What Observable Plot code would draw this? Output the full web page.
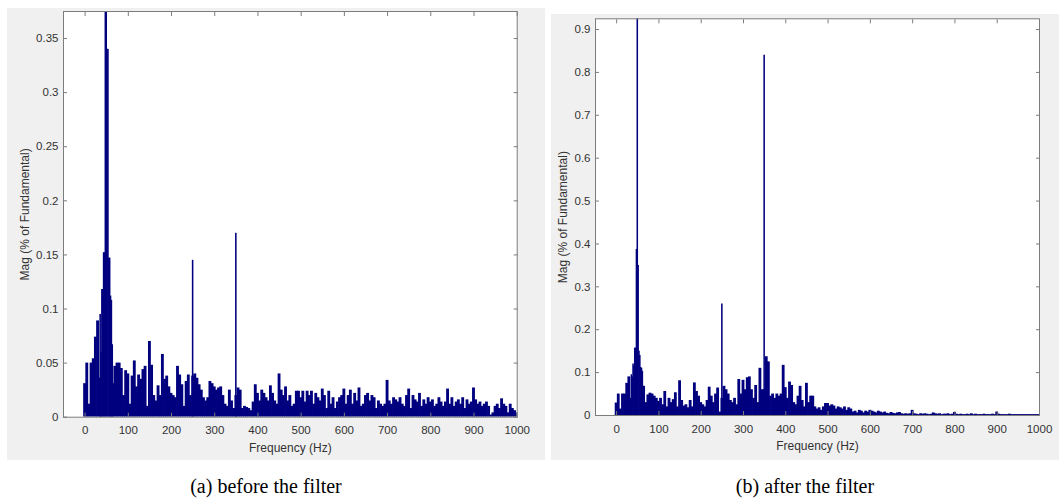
<!DOCTYPE html>
<html><head><meta charset="utf-8">
<script src="https://cdn.jsdelivr.net/npm/d3@7"></script>
<script src="https://cdn.jsdelivr.net/npm/@observablehq/plot@0.6"></script>
<style>
html,body{margin:0;padding:0;background:#fff;width:1059px;height:500px;overflow:hidden;position:relative;font-family:"Liberation Sans",Arial,sans-serif}
.panel{position:absolute;background:#f0f0f0}
#pa{left:7px;top:8px;width:538px;height:452px}
#pb{left:551px;top:14px;width:508px;height:446px}
.cap{position:absolute;top:475px;font-family:"Liberation Serif","Times New Roman",serif;font-size:20px;color:#000;white-space:nowrap;text-align:center;width:300px}
#ca{left:116px}
#cb{left:655px}
</style></head><body>
<div id="pa" class="panel"></div><div id="pb" class="panel"></div>
<div id="ca" class="cap">(a) before the filter</div>
<div id="cb" class="cap">(b) after the filter</div>
<script>
// Spectrum bins every 5 Hz (0..1000 Hz); null = bin drawn by the fine arrays around 50 Hz
const binStep = 5;
const magBefore = [
0.031,0.05,0.012,0.05,0.054,0.074,0.089,0.036,null,null,null,null,null,0.031,0.047,0.05,0.05,0.045,0.02,0.043,
0.04,0.012,0.038,0.052,0.028,0.039,0.035,0.044,0.047,0.01,0.07,0.048,0.02,0.015,0.029,0.02,0.058,0.035,0.038,0.028,
0.022,0.02,0.018,0.047,0.039,0.03,0.01,0.033,0.039,0.02,0.038,0.04,0.036,0.03,0.025,0.018,0.015,0.018,0.033,0.031,
0.028,0.025,0.027,0.028,0.02,0.012,0.01,0.025,0.015,0.008,0.02,0.027,0.025,0.008,0.01,0.009,0.008,0.006,0.014,0.03,
0.022,0.015,0.025,0.022,0.018,0.015,0.029,0.022,0.015,0.012,0.04,0.025,0.02,0.028,0.015,0.02,0.01,0.012,0.024,0.024,
0.018,0.024,0.014,0.024,0.02,0.024,0.012,0.022,0.018,0.015,0.026,0.02,0.008,0.024,0.012,0.018,0.008,0.014,0.018,0.02,
0.026,0.012,0.02,0.025,0.012,0.022,0.015,0.027,0.01,0.012,0.02,0.022,0.015,0.02,0.018,0.008,0.015,0.012,0.01,0.012,
0.034,0.015,0.012,0.018,0.016,0.014,0.018,0.012,0.01,0.02,0.026,0.008,0.02,0.016,0.014,0.022,0.01,0.016,0.012,0.018,
0.014,0.016,0.01,0.012,0.018,0.014,0.01,0.014,0.026,0.012,0.018,0.01,0.014,0.016,0.012,0.018,0.008,0.016,0.012,0.014,
0.027,0.016,0.012,0.014,0.01,0.012,0.014,0.01,0.002,0.004,0.01,0.012,0.008,0.017,0.012,0.01,0.004,0.012,0.008,0.006,
0.004];
const magAfter = [
0.029,0.05,0.015,0.05,0.05,0.075,0.09,0.04,null,null,null,null,null,0.068,0.03,0.048,0.052,0.05,0.045,0.04,
0.033,0.04,0.025,0.056,0.02,0.04,0.03,0.037,0.053,0.02,0.081,0.035,0.022,0.025,0.018,0.035,0.02,0.076,0.056,0.045,
0.03,0.025,0.02,0.035,0.066,0.045,0.03,0.05,0.064,0.008,0.04,0.068,0.06,0.05,0.035,0.03,0.04,0.025,0.084,0.05,
0.082,0.06,0.088,0.09,0.06,0.04,0.07,0.03,0.11,0.06,0.06,0.137,0.125,0.045,0.05,0.04,0.05,0.045,0.05,0.117,
0.065,0.04,0.078,0.07,0.03,0.025,0.045,0.068,0.035,0.02,0.075,0.03,0.045,0.045,0.02,0.015,0.018,0.012,0.02,0.028,
0.028,0.022,0.025,0.022,0.015,0.02,0.018,0.015,0.02,0.012,0.018,0.015,0.008,0.01,0.006,0.012,0.01,0.006,0.01,0.008,
0.012,0.01,0.008,0.006,0.01,0.008,0.006,0.008,0.005,0.004,0.007,0.005,0.004,0.006,0.007,0.004,0.003,0.004,0.003,0.004,
0.012,0.004,0.003,0.002,0.004,0.003,0.004,0.003,0.002,0.003,0.006,0.004,0.003,0.004,0.002,0.003,0.003,0.004,0.002,0.003,
0.007,0.003,0.002,0.003,0.002,0.002,0.003,0.002,0.004,0.002,0.003,0.002,0.002,0.002,0.003,0.002,0.002,0.002,0.003,0.002,
0.008,0.003,0.002,0.002,0.002,0.002,0.003,0.002,0.002,0.002,0.002,0.002,0.002,0.002,0.002,0.002,0.002,0.002,0.002,0.002,
0.002];
// Finer 2 Hz bins around the 50 Hz fundamental and the 250 / 350 Hz harmonics
const fineStep = 2;
const fineFreqs = [36,38,40,42,44,46,48,50,52,54,56,58,60,62,64,250,350];
const fineBefore = [0.095,0.06,0.118,0.118,0.152,0.152,0.38,0.38,0.34,0.34,0.147,0.147,0.112,0.108,0.067,0.145,0.17];
const fineAfter  = [0.095,0.09,0.12,0.115,0.157,0.157,0.387,0.93,0.35,0.15,0.14,0.112,0.11,0.103,0.068,0.26,0.84];

const xTicks = [0,100,200,300,400,500,600,700,800,900,1000];
const yTicksBefore = [0,0.05,0.1,0.15,0.2,0.25,0.3,0.35];
const yTicksAfter = [0,0.1,0.2,0.3,0.4,0.5,0.6,0.7,0.8,0.9];
const xLabel = "Frequency (Hz)";
const yLabel = "Mag (% of Fundamental)";

function toBars(mags, step, freqs) {
  return mags.map((m, i) => ({f: freqs ? freqs[i] : i * step, m, w: step})).filter(d => d.m != null);
}

function spectrum({bars, yDomain, yTicks, width, height, margins, xLabelDy, yLabelDx}) {
  const frameColor = "#7c7c7c";
  const ink = "#333333";
  return Plot.plot({
    width, height, ...margins,
    style: {background: "transparent", fontFamily: "'Liberation Sans', Arial, sans-serif", fontSize: "11.5px", color: ink, overflow: "visible"},
    x: {domain: [-50, 1000]},
    y: {domain: yDomain},
    marks: [
      Plot.frame({fill: "white", stroke: "none"}),
      Plot.rectY(bars, {x1: d => d.f - d.w / 2, x2: d => d.f + d.w / 2, y: "m", fill: "#00007f",
        insetLeft: -0.35, insetRight: -0.35, clip: true}),
      Plot.frame({stroke: frameColor}),
      Plot.axisX(xTicks, {anchor: "bottom", tickSize: -4, stroke: frameColor, fill: "none"}),
      Plot.axisX(xTicks, {anchor: "top", tickSize: -4, stroke: frameColor, fill: "none"}),
      Plot.axisY(yTicks, {anchor: "left", tickSize: -4, stroke: frameColor, fill: "none"}),
      Plot.axisY(yTicks, {anchor: "right", tickSize: -4, stroke: frameColor, fill: "none"}),
      Plot.axisX(xTicks, {anchor: "bottom", tickSize: 0, tickPadding: 9, tickFormat: d3.format("d"), label: null, fill: ink}),
      Plot.axisY(yTicks, {anchor: "left", tickSize: 0, tickPadding: 5, tickFormat: d3.format("~g"), label: null, fill: ink}),
      Plot.text([xLabel], {frameAnchor: "bottom", dy: xLabelDy, lineAnchor: "middle", fontSize: 12, fill: ink}),
      Plot.text([yLabel], {frameAnchor: "left", dx: yLabelDx, rotate: -90, lineAnchor: "middle", textAnchor: "middle", fontSize: 12, fill: ink})
    ]
  });
}

const barsBefore = toBars(magBefore, binStep).concat(toBars(fineBefore, fineStep, fineFreqs));
const barsAfter = toBars(magAfter, binStep).concat(toBars(fineAfter, fineStep, fineFreqs));

document.getElementById("pa").append(spectrum({
  bars: barsBefore, yDomain: [0, 0.375], yTicks: yTicksBefore,
  width: 538, height: 452,
  margins: {marginLeft: 56, marginTop: 3, marginRight: 28.3, marginBottom: 43.3},
  xLabelDy: 31, yLabelDx: -38
}));
document.getElementById("pb").append(spectrum({
  bars: barsAfter, yDomain: [0, 0.925], yTicks: yTicksAfter,
  width: 508, height: 446,
  margins: {marginLeft: 44, marginTop: 4.3, marginRight: 20, marginBottom: 45},
  xLabelDy: 31, yLabelDx: -32
}));
</script>
</body></html>
